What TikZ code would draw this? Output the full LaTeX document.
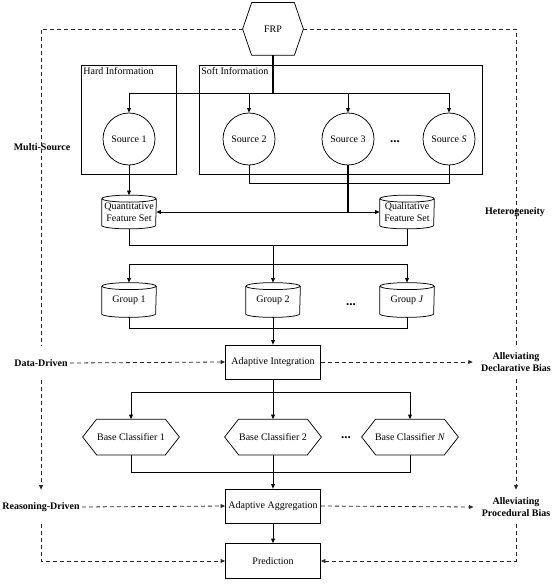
\documentclass[tikz,border=0pt]{standalone}
\usepackage{fontspec}
\setmainfont{Liberation Serif}
\usetikzlibrary{arrows.meta,calc}
\newcommand{\hexpath}[2]{\draw (#1.west) -- ([xshift=#2]#1.north west) -- ([xshift=-#2]#1.north east) -- (#1.east) -- ([xshift=-#2]#1.south east) -- ([xshift=#2]#1.south west) -- cycle;}
\newcommand{\cylpath}[1]{%
  \draw ([yshift=-3.5pt]#1.north west) -- ([yshift=3.5pt]#1.south west) arc[start angle=180,end angle=360,x radius=27pt,y radius=3.5pt] -- ([yshift=-3.5pt]#1.north east);
  \draw ([yshift=-3.5pt]#1.north) ellipse[x radius=27pt,y radius=3.5pt];}
\begin{document}
\begin{tikzpicture}[x=1pt,y=-1pt,
  font=\fontsize{10}{11.5}\selectfont,
  line width=0.75pt,
  arr/.style={-{Triangle[length=4.5pt,width=3.8pt]}},
  dashline/.style={dash pattern=on 4pt off 3pt, line width=0.8pt, black!85},
  box/.style={draw, rectangle, minimum width=95pt, minimum height=34pt, inner sep=0pt, align=center},
  src/.style={draw, circle, minimum size=52pt, inner sep=0pt},
  cylnode/.style={minimum width=54pt, minimum height=33pt, inner sep=0pt, align=center},
  hexnode/.style={minimum width=96pt, minimum height=35pt, inner sep=0pt},
  side/.style={font=\fontsize{10}{11.5}\selectfont\bfseries, align=center, inner xsep=2pt, inner ysep=0pt, minimum height=34pt},
  dotsnode/.style={inner sep=0pt, font=\fontsize{13}{13}\selectfont\bfseries},
  thickline/.style={line width=1.2pt}]
\useasboundingbox (0,0) rectangle (553,585);

% helper coordinates
\coordinate (y93) at (0,93);
\coordinate (y183) at (0,183);
\coordinate (y245) at (0,245);
\coordinate (y264) at (0,264);
\coordinate (y328) at (0,328);
\coordinate (y392) at (0,392);
\coordinate (y472) at (0,472);

% FRP
\node[minimum width=60pt, minimum height=52pt, inner sep=0pt] (frp) at (273,29) {FRP};
\hexpath{frp}{9pt}

% containers
\node[draw, minimum width=95pt, minimum height=109pt, anchor=north west, inner sep=0pt] (hard) at (81,65) {};
\node[anchor=north west, inner sep=2pt] (hardlbl) at (hard.north west) {Hard Information};
\node[draw, minimum width=283pt, minimum height=109pt, anchor=north west, inner sep=0pt] (soft) at (199,65) {};
\node[anchor=north west, inner sep=2pt] (softlbl) at (soft.north west) {Soft Information};

% sources
\node[src] (s1) at (129,139) {Source 1};
\node[src] (s2) at (249,139) {Source 2};
\node[src] (s3) at (348,139) {Source 3};
\node[src] (ss) at (449,139) {Source \textit{S}};
\node[dotsnode] (dots1) at (395,142) {...};

% feature sets
\node[cylnode] (quant) at (129,212) {Quantitative\\Feature Set};
\cylpath{quant}
\node[cylnode] (qual) at (407,212) {Qualitative\\Feature Set};
\cylpath{qual}

% groups
\node[cylnode, minimum height=34pt] (g1) at (129,300) {Group 1};
\cylpath{g1}
\node[cylnode, minimum height=34pt] (g2) at (273,300) {Group 2};
\cylpath{g2}
\node[cylnode, minimum height=34pt] (gj) at (407,300) {Group \textit{J}};
\cylpath{gj}
\node[dotsnode] (dots2) at (351,305) {...};

% integration
\node[box] (ai) at (273,362) {Adaptive Integration};

% base classifiers
\node[hexnode] (bc1) at (131,437) {Base Classifier 1};
\hexpath{bc1}{14pt}
\node[hexnode] (bc2) at (273,437) {Base Classifier 2};
\hexpath{bc2}{14pt}
\node[hexnode] (bcn) at (410,437) {Base Classifier \textit{N}};
\hexpath{bcn}{14pt}
\node[dotsnode] (dots3) at (346,438) {...};

% aggregation, prediction
\node[box] (aa) at (273,506) {Adaptive Aggregation};
\node[box, minimum height=35pt] (pred) at (273,561) {Prediction};

% side labels
\node[side, minimum height=0pt] (ms) at (42,147) {Multi-Source};
\node[side, minimum height=0pt] (het) at (515,212) {Heterogeneity};
\node[side] (dd) at (41,363) {Data-Driven};
\node[side] (rd) at (41,507) {Reasoning-Driven};
\node[side] (decl) at (516,362) {Alleviating\\Declarative Bias};
\node[side] (proc) at (516,507) {Alleviating\\Procedural Bias};

% FRP to sources
\draw[thickline] (frp.south) -- (frp.south |- y93);
\draw (s1.north |- y93) -- (ss.north |- y93);
\foreach \s in {s1,s2,s3,ss} \draw[arr] (\s.north |- y93) -- (\s.north);

% sources to feature sets
\draw (s2.south) -- (s2.south |- y183) -- (ss.south |- y183) -- (ss.south);
\draw[arr] (s1.south) -- (quant.north);
\draw[thickline] (s3.south) -- (s3.south |- quant.east) coordinate (j1);
\draw[arr] (j1) -- (quant.east);
\draw[arr] (j1) -- (qual.west);

% feature sets to groups
\draw (quant.south) -- (quant.south |- y245) -- (qual.south |- y245) -- (qual.south);
\draw[arr] (g2.north |- y245) -- (g2.north);
\draw (g1.north |- y264) -- (gj.north |- y264);
\draw[arr] (g1.north |- y264) -- (g1.north);
\draw[arr] (gj.north |- y264) -- (gj.north);

% groups to integration
\draw (g1.south) -- (g1.south |- y328) -- (gj.south |- y328) -- (gj.south);
\draw[arr] (g2.south) -- (ai.north);

% integration to classifiers
\draw[arr] (ai.south) -- (bc2.north);
\draw (bc1.north |- y392) -- (bcn.north |- y392);
\draw[arr] (bc1.north |- y392) -- (bc1.north);
\draw[arr] (bcn.north |- y392) -- (bcn.north);

% classifiers to aggregation
\draw (bc1.south) -- (bc1.south |- y472) -- (bcn.south |- y472) -- (bcn.south);
\draw[arr] (bc2.south) -- (aa.north);
\draw[arr] (aa.south) -- (pred.north);

% dashed frame
\draw[dashline] (frp.west) -- (dd.north |- frp.west) -- (dd.north);
\draw[dashline] (frp.east) -- (decl.north |- frp.east) -- (decl.north);
\draw[dashline, arr] (dd.south) -- (rd.north);
\draw[dashline, arr] (decl.south) -- (proc.north);
\draw[dashline, arr] (rd.south) |- (pred.west);
\draw[dashline, arr] (proc.south) |- (pred.east);
\draw[dashline, arr] (dd.east) -- (ai.west);
\draw[dashline, arr] (ai.east) -- ([xshift=-6pt]decl.west);
\draw[dashline, arr] (rd.east) -- (aa.west);
\draw[dashline, arr] (aa.east) -- ([xshift=-6pt]proc.west);
\end{tikzpicture}
\end{document}
